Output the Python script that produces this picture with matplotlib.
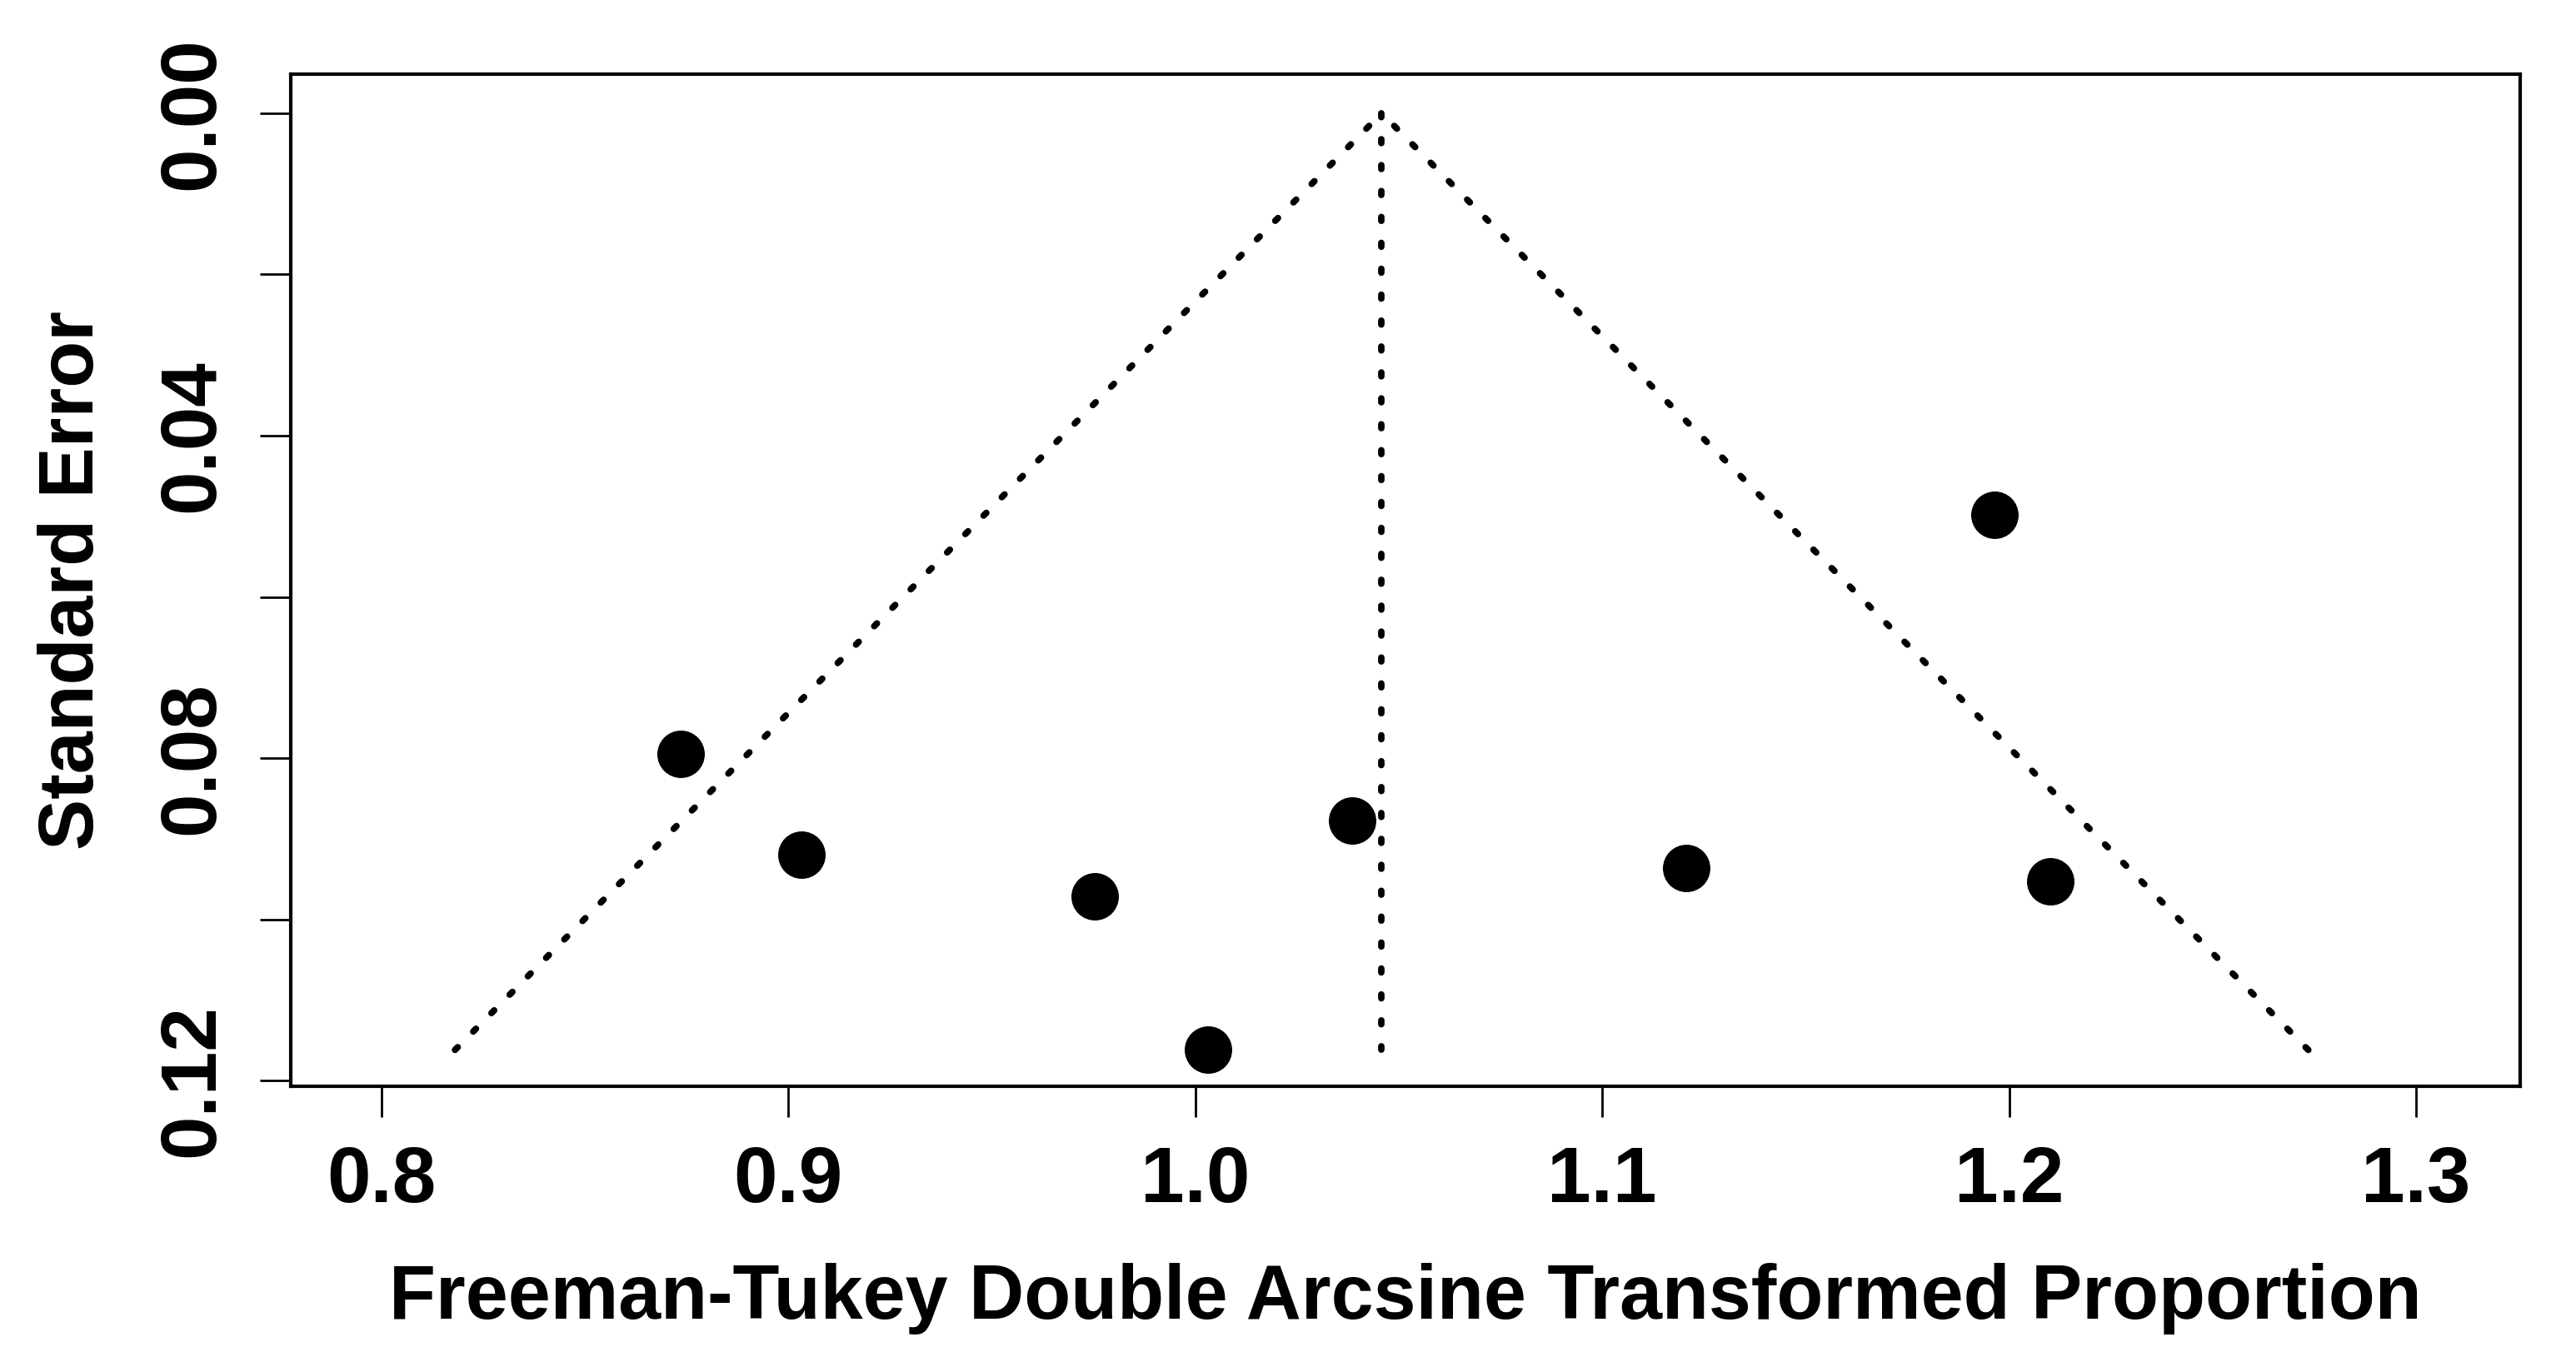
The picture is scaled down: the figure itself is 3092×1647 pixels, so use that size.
import matplotlib.pyplot as plt

# funnel plot data: transformed proportions and standard errors per study
ft_prop = [0.8735, 0.9032, 0.9752, 1.0031, 1.0386, 1.1206, 1.1964, 1.2102]
std_err = [0.0795, 0.0920, 0.0971, 0.1162, 0.0877, 0.0936, 0.0498, 0.0953]
pooled = 1.0458
se_max = 0.1162

x_ticks = [0.8, 0.9, 1.0, 1.1, 1.2, 1.3]
x_labels = ["0.8", "0.9", "1.0", "1.1", "1.2", "1.3"]
y_ticks = [0.00, 0.02, 0.04, 0.06, 0.08, 0.10, 0.12]
y_labels = ["0.00", "", "0.04", "", "0.08", "", "0.12"]

plt.rcParams['font.family'] = ['Liberation Sans', 'DejaVu Sans']
plt.rcParams['font.weight'] = 'bold'

fig = plt.figure(figsize=(15.46, 8.235), dpi=200)
ax = fig.add_axes([0.1129, 0.2083, 0.9783 - 0.1129, 0.9457 - 0.2083])

dots = dict(color='black', lw=2.8, linestyle=(0, (0.6, 3.4)), dash_capstyle='round')
# pseudo 95% confidence region, each leg drawn from its bottom end up to the apex
ax.plot([pooled - 1.96 * se_max, pooled], [se_max, 0], **dots)
ax.plot([pooled + 1.96 * se_max, pooled], [se_max, 0], **dots)
ax.plot([pooled, pooled], [0, se_max], **dots)

ax.plot(ft_prop, std_err, 'o', color='black', markersize=19.5, zorder=3)

ax.set_xlim(0.7777, 1.3256)
ax.set_ylim(0.1207, -0.0048)

ax.set_xticks(x_ticks)
ax.set_xticklabels(x_labels)
ax.set_yticks(y_ticks)
ax.set_yticklabels(y_labels, rotation=90, va='center')

ax.tick_params(axis='both', direction='out', length=13.3, width=1.0, labelsize=34)
ax.tick_params(axis='x', pad=12)
ax.tick_params(axis='y', pad=13)
for s in ax.spines.values():
    s.set_linewidth(1.5)

ax.set_xlabel("Freeman-Tukey Double Arcsine Transformed Proportion", fontsize=33, fontweight='bold', labelpad=19)
ax.set_ylabel("Standard Error", fontsize=33, fontweight='bold', labelpad=20)

fig.savefig("out.png", dpi=200)
